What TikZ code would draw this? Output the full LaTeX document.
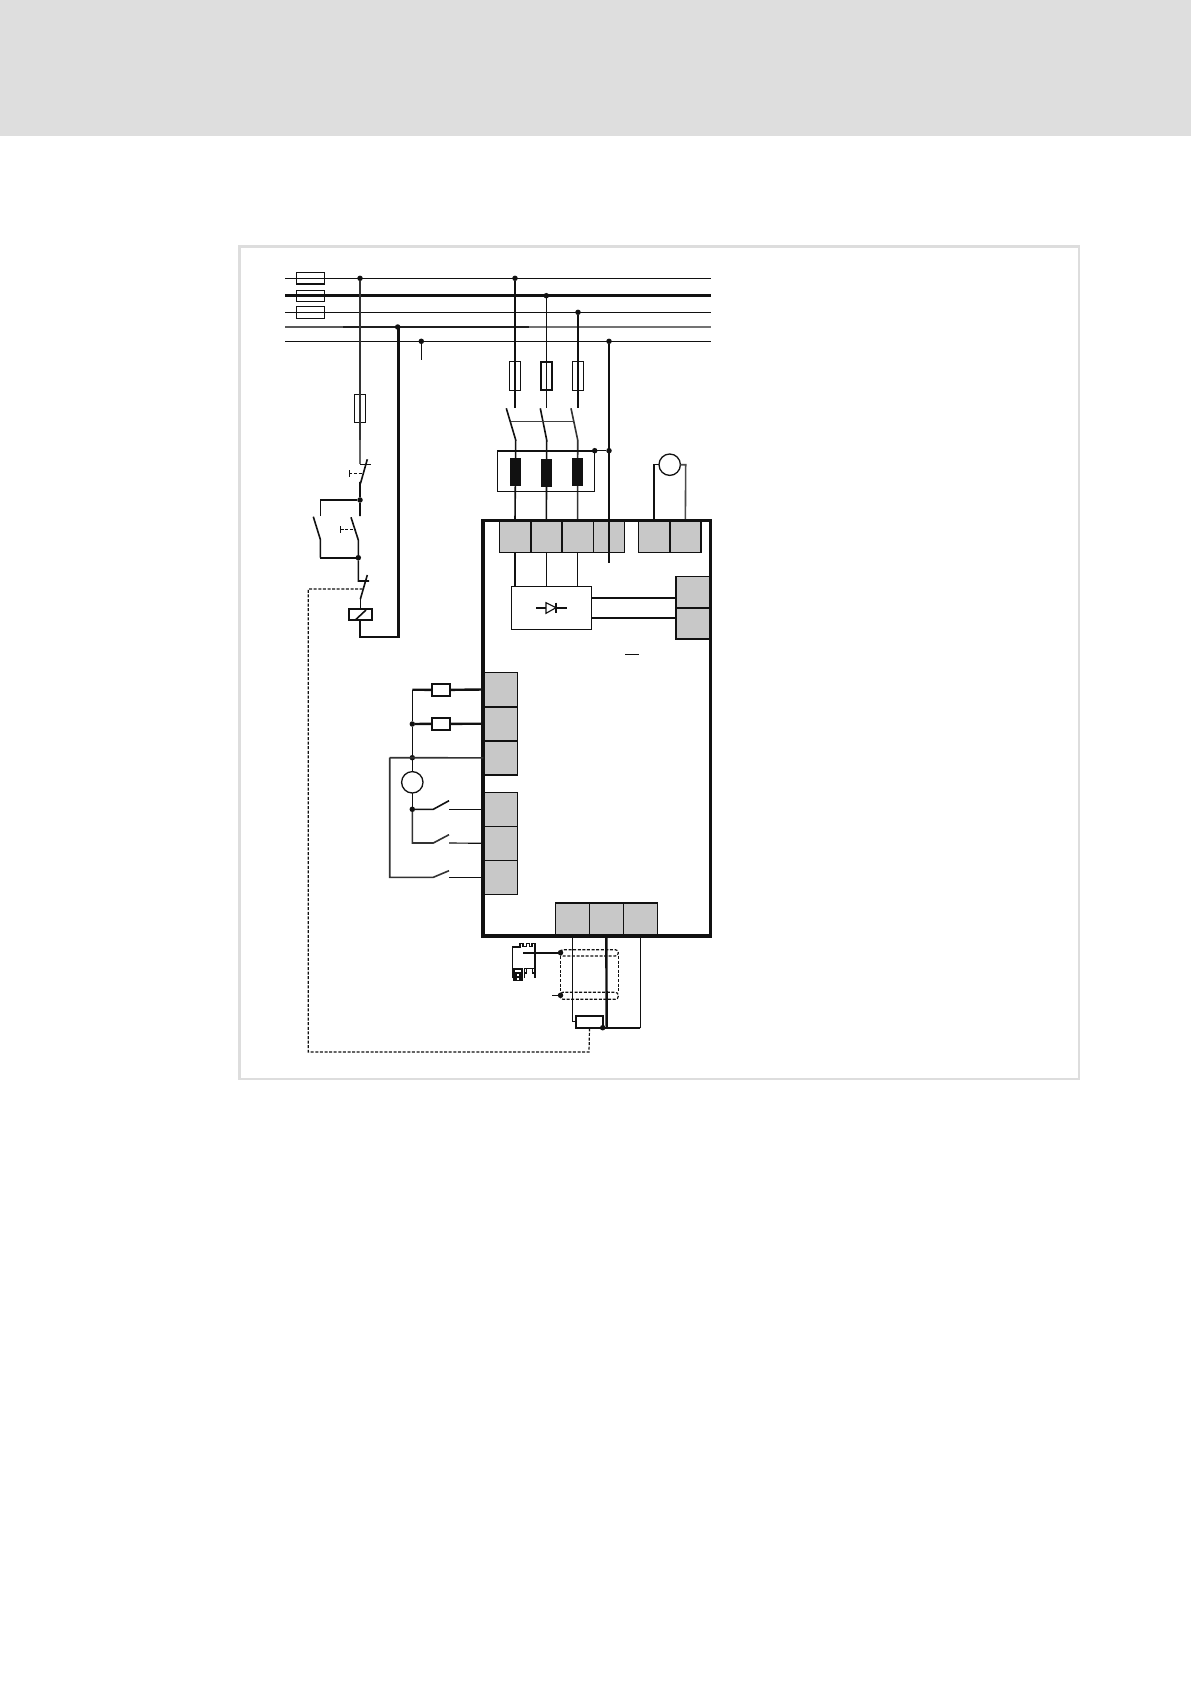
\documentclass[tikz,border=0pt]{standalone}
\definecolor{hdr}{HTML}{DEDEDE}
\definecolor{frm}{HTML}{DDDDDD}
\definecolor{term}{HTML}{C8C8C8}
\definecolor{ink}{HTML}{111111}
\tikzset{
  thin wire/.style={draw=ink,line width=1.15pt},
  mid wire/.style={draw=ink,line width=1.6pt},
  heavy wire/.style={draw=ink,line width=2.4pt},
  ctrl link/.style={draw=ink,line width=1.2pt,dash pattern=on 3pt off 1.6pt},
  dot/.style={circle,fill=ink,draw=none,minimum size=5.5pt,inner sep=0pt,outer sep=0pt},
  rbox/.style={draw=ink,line width=1.15pt,inner sep=0pt,outer sep=0pt},
  rboxh/.style={draw=ink,line width=2pt,inner sep=0pt,outer sep=0pt},
  terminal/.style={rbox,fill=term},
  choke/.style={fill=ink,draw=none,inner sep=0pt,outer sep=0pt},
  ring/.style={circle,draw=ink,line width=1.3pt,fill=white,minimum size=21.4pt,inner sep=0pt,outer sep=0pt},
}
\newcommand{\bx}[6]{\node[#2,minimum width={(#5-#3)*1pt},minimum height={(#6-#4)*1pt}] (#1) at ({(#3+#5)/2},{(#4+#6)/2}) {};}
\newcommand{\jn}[3]{\node[dot] (#1) at (#2,#3) {};}
\begin{document}
\begin{tikzpicture}[x=1pt,y=-1pt]
\useasboundingbox (0,0) rectangle (1191,1685);
\fill[white] (0,0) rectangle (1191,1685);
\fill[hdr] (0,0) rectangle (1191,136);
\draw[frm,line width=2.8pt] (239.7,246.5) rectangle (1079,1079);

% named points on the buses
\coordinate (b1l) at (285,278.3); \coordinate (b1r) at (711,278.3);
\coordinate (b2l) at (285,295.7); \coordinate (b2r) at (711,295.7);
\coordinate (b3l) at (285,312.3); \coordinate (b3r) at (711,312.3);
\coordinate (b4l) at (285,327);   \coordinate (b4a) at (343,327); \coordinate (b4b) at (529,327); \coordinate (b4r) at (711,327);
\coordinate (b5l) at (285,341.3); \coordinate (b5r) at (711,341.3);

\draw[thin wire] (b1l) -- (b1r);
\draw[heavy wire] (b2l) -- (b2r);
\draw[thin wire] (b3l) -- (b3r);
\draw[draw=black!65,line width=1.6pt] (b4l) -- (b4a);
\draw[draw=black!88,line width=1.6pt] (b4a) -- (b4b);
\draw[draw=black!55,line width=1.6pt] (b4b) -- (b4r);
\draw[thin wire] (b5l) -- (b5r);

% bus fuses
\bx{fa}{rboxh,line width=1.4pt}{296.3}{272.3}{324.3}{284}
\bx{fb}{rboxh,line width=1.4pt}{296.3}{290.3}{324.3}{301.3}
\bx{fc}{rboxh,line width=1.4pt}{296.3}{306.7}{324.3}{318.7}

% junctions on buses
\jn{j1}{360}{278.3}
\jn{j2}{397.7}{327}
\jn{j3}{421.3}{341.3}
\jn{j4}{515}{278.3}
\jn{j5}{546.3}{295.7}
\jn{j6}{578}{312.3}
\jn{j7}{609}{341.3}

% control circuit
\coordinate (s1t) at (360,464.3);
\coordinate (s1r) at (370.7,464.3);
\coordinate (s1a) at (367.3,459.3);
\coordinate (s1b) at (360.7,482.7);
\coordinate (s1c) at (360,482.7);
\jn{j8}{360}{500}
\coordinate (s2t) at (360,516);
\coordinate (hl) at (320.3,500);
\coordinate (hd) at (320.3,516);
\coordinate (s3a) at (313.3,516.7);
\coordinate (s3b) at (320.3,539.3);
\coordinate (s3c) at (320.3,557.7);
\jn{j9}{358.3}{557.7}
\coordinate (s4a) at (351,517.3);
\coordinate (s4b) at (358.3,540);
\coordinate (s5t) at (358.3,581);
\coordinate (s5r) at (369,581);
\coordinate (s5a) at (367.3,575);
\coordinate (s5b) at (360.3,599.3);

\bx{fq}{rbox}{354.7}{394.3}{365.7}{422.7}
\draw[mid wire,draw=black!80] (j1) -- (360,440);
\draw[mid wire,draw=black!60] (360,440) -- (s1t);
\draw[mid wire] (s1t) -- (s1r);
\draw[mid wire] (s1a) -- (s1b) -- (s1c) -- (j8) -- (s2t);
\draw[mid wire] (hd) -- (hl) -- (j8);
\draw[mid wire] (s3a) -- (s3b) -- (s3c);
\draw[heavy wire] (s3c) -- (j9);
\draw[mid wire] (s4a) -- (s4b) -- (j9) -- (s5t) -- (s5r);
\draw[mid wire] (s5a) -- (s5b);

% push-button actuators
\coordinate (pa) at (349.3,473.7); \coordinate (pb) at (363,473.7);
\draw[ctrl link] (pa) -- (pb);
\draw[thin wire] (349.3,470) -- (349.3,477);
\coordinate (pc) at (340.7,529.3); \coordinate (pd) at (356,529.3);
\draw[ctrl link] (pc) -- (pd);
\draw[thin wire] (340.7,526) -- (340.7,532.7);

% coil
\bx{coil}{rboxh}{349.3}{609.3}{371.7}{620.3}
\draw[mid wire] (s5b) -- (360.3,609.3);
\draw[mid wire] (355,620.3) -- (366,610);
\coordinate (coilr) at (398.3,637);
\coordinate (coild) at (360,637);
\draw[heavy wire] (360,620.3) -- (coild) -- (coilr) -- (398.3,327);

\draw[thin wire] (j3) -- (421.3,359.7);

% branch wires with fuses
\draw[heavy wire] (j4) -- (515,407.7);
\draw[thin wire] (j5) -- (546.3,407.7);
\draw[heavy wire] (j6) -- (578,407.7);
\bx{f1}{rboxh,line width=1.4pt}{509.3}{361.7}{520.7}{390.3}
\bx{f2}{rboxh}{540.6}{361.7}{552}{390.3}
\bx{f3}{rbox}{572.3}{361.7}{583.7}{390.3}

% main box terminals
\bx{T1}{terminal}{499.3}{520.7}{530.7}{552.3}
\bx{T2}{terminal}{530.7}{520.7}{562}{552.3}
\bx{T3}{terminal}{562}{520.7}{593.3}{552.3}
\bx{T4}{terminal}{593.3}{520.7}{624.3}{552.3}
\bx{T5}{terminal}{638.3}{520.7}{669.7}{552.3}
\bx{T6}{terminal}{669.7}{520.7}{701}{552.3}
\bx{R1}{terminal}{676}{576.3}{710.7}{607.7}
\bx{R2}{terminal}{676}{607.7}{710.7}{639}
\bx{L1}{terminal}{483.3}{672.3}{517.7}{706.7}
\bx{L2}{terminal}{483.3}{706.7}{517.7}{740.7}
\bx{L3}{terminal}{483.3}{740.7}{517.7}{775}
\bx{L4}{terminal}{483.3}{792.3}{517.7}{826.3}
\bx{L5}{terminal}{483.3}{826.3}{517.7}{860.3}
\bx{L6}{terminal}{483.3}{860.3}{517.7}{894.3}
\bx{B1}{terminal}{555.3}{902.7}{589.3}{936}
\bx{B2}{terminal}{589.3}{902.7}{623.3}{936}
\bx{B3}{terminal}{623.3}{902.7}{657.3}{936}
\draw[mid wire] (T1.north east) -- (T1.south east);
\draw[mid wire] (T2.north east) -- (T2.south east);
\draw[mid wire] (T5.north east) -- (T5.south east);
\draw[heavy wire] (T6.north east) -- (T6.south east);
\draw[heavy wire] (R1.north west) -- (R2.south west) -- (R2.south east);
\draw[mid wire] (R1.south west) -- (R1.south east);
\draw[mid wire] (R1.north west) -- (R1.north east);
\draw[mid wire] (L1.south west) -- (L1.south east);
\draw[mid wire] (L2.south west) -- (L2.south east);
\draw[mid wire] (L3.south west) -- (L3.south east);
\draw[mid wire] (B1.north west) -- (B3.north east);

% contactor
\coordinate (k1a) at (506.3,408.3); \coordinate (k1b) at (515.7,440);
\coordinate (k2a) at (540.3,408.3); \coordinate (k2b) at (546.7,440);
\coordinate (k3a) at (571,408.3);   \coordinate (k3b) at (577.7,440);
\coordinate (kl) at (510.7,421.3);  \coordinate (kr) at (573.3,421.3);
\draw[mid wire] (k1a) -- (k1b) -- (T1.north);
\draw[mid wire] (k2a) -- (k2b) -- (T2.north);
\draw[mid wire,draw=black!80] (k3a) -- (k3b) -- (T3.north);
\draw[mid wire,draw=black!75] (kl) -- (kr);

\bx{flt}{rbox}{497.3}{450.7}{594.7}{491.3}
\draw[heavy wire,line width=2pt] (flt.north west) -- (flt.north east);
\bx{c1}{choke}{510}{458}{521}{486}
\bx{c2}{choke}{541}{459}{552}{487}
\bx{c3}{choke}{572}{458}{583}{486}
\jn{j10}{594.7}{450.7}
\jn{j11}{609}{450.7}
\draw[thin wire] (j10) -- (j11);
\coordinate (pedown) at (609,562.7);
\draw[heavy wire] (j7) -- (pedown);

% motor-temperature loop
\node[ring] (fan) at (669.7,464.7) {};
\coordinate (fl) at (654,464.7); \coordinate (fr) at (685.7,464.7);
\draw[thin wire] (T5.north) -- (fl) -- (fan.west);
\draw[mid wire,draw=black!70] (T6.north) -- (fr) -- (fan.east);

% rectifier block
\bx{rect}{rbox}{511.3}{586.3}{591.7}{629.3}
\draw[thin wire] (T1.south) -- (T1.south |- rect.north);
\draw[thin wire] (T2.south) -- (T2.south |- rect.north);
\draw[thin wire] (T3.south) -- (T3.south |- rect.north);
\coordinate (dl) at (536,607.7); \coordinate (dr) at (566.7,607.7);
\draw[mid wire] (dl) -- (dr);
\draw[thin wire,fill=white] (546,602.7) -- (546,613.3) -- (556,607.7) -- cycle;
\draw[mid wire] (556,602.7) -- (556,613.3);
\draw[heavy wire,line width=2pt] (591.7,597.7) -- (676,597.7);
\draw[heavy wire,line width=2pt] (591.7,617.7) -- (676,617.7);

% the short dash
\coordinate (ma) at (625.3,654.3); \coordinate (mb) at (639,654.3);
\draw[thin wire] (ma) -- (mb);

% main box
\bx{main}{draw=ink,line width=3.2pt,inner sep=0pt,outer sep=0pt}{483}{520.7}{710.7}{936}

% left side
\coordinate (w1) at (412.3,689.7);
\jn{j12}{412.3}{724}
\jn{j13}{412.3}{757.7}
\bx{r1}{rboxh}{431.7}{683.7}{449.7}{696}
\bx{r2}{rboxh}{431.7}{717.7}{449.7}{730}
\draw[mid wire] (w1) -- (j12) -- (j13);
\draw[heavy wire] (w1) -- (r1.west);
\draw[heavy wire] (r1.east) -- (L1.west);
\draw[heavy wire] (j12) -- (r2.west);
\draw[heavy wire] (r2.east) -- (L2.west);
\coordinate (lv) at (389.7,757.7);
\draw[mid wire,draw=black!80] (lv) -- (L3.west);
\node[ring] (relay) at (412.3,782.3) {};
\draw[mid wire] (j13) -- (relay.north);
\jn{j14}{412.3}{809.3}
\coordinate (sw1) at (433.3,809.3); \coordinate (sw1e) at (449,800.7); \coordinate (sw1t) at (449,809.3);
\coordinate (sw2) at (433.3,843); \coordinate (sw2e) at (449,834.7); \coordinate (sw2t) at (449,843);
\coordinate (sw3) at (433.3,877.3); \coordinate (sw3e) at (449,870.7); \coordinate (sw3t) at (449,877.3);
\coordinate (w2) at (412.3,843);
\coordinate (lb) at (389.7,877.3);
\draw[mid wire] (relay.south) -- (j14);
\draw[mid wire,draw=black!80] (j14) -- (w2) -- (sw2) -- (sw2e);
\draw[mid wire] (j14) -- (sw1) -- (sw1e);
\draw[thin wire] (sw1t) -- (L4.west);
\draw[thin wire] (sw2t) -- (L5.west);
\draw[thin wire] (sw3t) -- (L6.west);
\draw[mid wire,draw=black!80] (lv) -- (lb) -- (sw3) -- (sw3e);

% bottom: shield and sensor
\coordinate (u1) at (572.3,1021.7);
\coordinate (u2) at (575.7,1021.7);
\bx{rt}{rboxh}{575.7}{1015.7}{603.3}{1028}
\coordinate (bj) at (602.7,1027.7);
\coordinate (bv) at (606.7,1027.7);
\coordinate (br) at (640.3,1027.7);
\draw[thin wire] (B1.south) -- (B1.south |- u1) -- (u2);
\draw[heavy wire] (B2.south) -- (bv);
\draw[thin wire] (B3.south) -- (br);
\draw[heavy wire,line width=2pt] (br) -- (bj);
\node[dot] (j15) at (bj) {};

% shield
\draw[ctrl link,rounded corners=3pt] (560,949.7) rectangle (618.3,956);
\draw[ctrl link,rounded corners=3pt] (560,992.3) rectangle (618.3,999.3);
\draw[ctrl link] (560.3,956) -- (560.3,992.3);
\draw[ctrl link] (618.3,956) -- (618.3,992.3);
\jn{j16}{560.5}{952.7}
\jn{j17}{560.5}{995.3}
\coordinate (sen) at (523.3,952.7);
\coordinate (st) at (552.3,995.3);
\draw[heavy wire,line width=2pt] (sen) -- (j16);
\draw[thin wire] (st) -- (j17);

% connector symbol
\draw[thin wire] (512.3,978) -- (512.3,947) -- (520,947) -- (520,943.5) -- (523,943.5) -- (523,946.5) -- (526.5,946.5) -- (526.5,943.5) -- (529.5,943.5) -- (529.5,946.5) -- (532,946.5) -- (532,943.5) -- (535,943.5) -- (535,978);
\node[choke,minimum width=10pt,minimum height=13pt] (cblk) at (518,974.5) {};
\node[fill=white,inner sep=0pt,minimum width=6pt,minimum height=2.5pt] (cw1) at (518,971) {};
\node[fill=white,inner sep=0pt,minimum width=2pt,minimum height=2pt] (cw2) at (518,975) {};
\node[fill=white,inner sep=0pt,minimum width=2pt,minimum height=2pt] (cw3) at (518,978.5) {};
\draw[thin wire] (524.5,978) -- (524.5,968.5) -- (534.5,968.5) -- (534.5,978);
\draw[thin wire] (524.5,973) -- (526.5,973) -- (526.5,968.5);
\draw[thin wire] (532.5,968.5) -- (532.5,973) -- (534.5,973);

% dashed mechanical link
\coordinate (d1) at (362.7,589);
\coordinate (d2) at (308.3,589);
\coordinate (d3) at (308.3,1052);
\coordinate (d4) at (589,1052);
\draw[ctrl link,line cap=butt] (d1) -- (d2) -- (d3) -- (d4) -- (rt.south);
\end{tikzpicture}
\end{document}
